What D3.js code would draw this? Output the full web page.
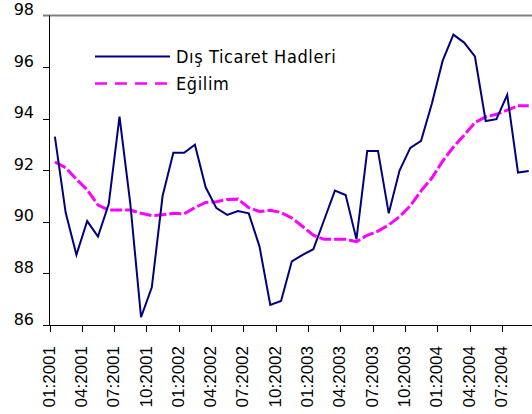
<!DOCTYPE html>
<html>
<head>
<meta charset="utf-8">
<script src="https://cdn.jsdelivr.net/npm/d3@7"></script>
<style>
  body { margin: 0; background: #fff; }
  svg { display: block; }
</style>
</head>
<body>
<div class="chartArea"></div>
<script>
// monthly data, 01:2001 - 09:2004
const months = [];
for (let y = 2001; y <= 2004; y++) {
    for (let m = 1; m <= 12; m++) {
        if (y === 2004 && m > 9) break;
        months.push((m < 10 ? "0" + m : "" + m) + ":" + y);
    }
}

const hadleri = [
    93.30, 90.36, 88.72, 90.03, 89.43, 90.69, 94.08, 90.72, 86.30, 87.46, 91.00, 92.68,
    92.68, 92.99, 91.34, 90.53, 90.27, 90.42, 90.33, 89.04, 86.78, 86.93, 88.47, 88.72,
    88.94, 90.07, 91.21, 91.04, 89.32, 92.75, 92.75, 90.33, 91.99, 92.87, 93.14, 94.58,
    96.24, 97.26, 96.95, 96.41, 93.91, 93.98, 94.92, 91.91, 91.97
];

const egilim = [
    92.32, 92.10, 91.65, 91.24, 90.65, 90.46, 90.46, 90.46, 90.33, 90.24, 90.27, 90.33,
    90.31, 90.55, 90.75, 90.78, 90.87, 90.88, 90.55, 90.40, 90.45, 90.36, 90.15, 89.82,
    89.48, 89.32, 89.32, 89.32, 89.23, 89.48, 89.64, 89.88, 90.20, 90.62, 91.20, 91.70,
    92.35, 92.90, 93.36, 93.85, 94.07, 94.17, 94.33, 94.50, 94.50
];

const yTicks = [86, 88, 90, 92, 94, 96, 98];
const legendNames = ["Dış Ticaret Hadleri", "Eğilim"];

const width = 532;
const height = 414;

const svg = d3.select(".chartArea")
    .append("svg")
    .attr("width", width)
    .attr("height", height);

const xScale = d3.scaleBand()
    .domain(months)
    .range([49.5, 49.5 + 10.77 * months.length]);

const yScale = d3.scaleLinear()
    .domain([86, 98])
    .range([325, 15.5]);

const cx = d => xScale(d) + xScale.bandwidth() / 2;

// top border of plot area (gray)
svg.append("line")
    .attr("x1", 43).attr("x2", width)
    .attr("y1", yScale(98)).attr("y2", yScale(98))
    .attr("stroke", "#808080")
    .attr("stroke-width", 2);

// y axis
svg.append("line")
    .attr("x1", 49.5).attr("x2", 49.5)
    .attr("y1", yScale(98)).attr("y2", yScale(86))
    .attr("stroke", "#000");

svg.selectAll(".ytick")
    .data(yTicks.slice(0, -1))
    .enter()
    .append("line")
    .attr("x1", 43).attr("x2", 49.5)
    .attr("y1", d => Math.round(yScale(d)) + 0.5)
    .attr("y2", d => Math.round(yScale(d)) + 0.5)
    .attr("stroke", "#000");

svg.selectAll(".ylab")
    .data(yTicks)
    .enter()
    .append("text")
    .attr("x", 34)
    .attr("y", d => yScale(d) - 0.5)
    .attr("text-anchor", "end")
    .attr("font-family", "'DejaVu Sans', sans-serif")
    .attr("font-size", "16px")
    .attr("fill", "#000")
    .text(d => d);

// x axis
svg.append("line")
    .attr("x1", 43).attr("x2", width)
    .attr("y1", 325.5).attr("y2", 325.5)
    .attr("stroke", "#000");

const tickMonths = months.filter((d, i) => i % 3 === 0);

svg.selectAll(".xtick")
    .data(tickMonths)
    .enter()
    .append("line")
    .attr("x1", d => Math.round(xScale(d)) + 0.5)
    .attr("x2", d => Math.round(xScale(d)) + 0.5)
    .attr("y1", 325.5).attr("y2", 332)
    .attr("stroke", "#000");

svg.selectAll(".xlab")
    .data(tickMonths)
    .enter()
    .append("text")
    .attr("transform", d => "translate(" + (xScale(d) - 1) + ",346) rotate(-90)")
    .attr("text-anchor", "end")
    .attr("dy", "0.36em")
    .attr("font-family", "'Liberation Sans', Arial, sans-serif")
    .attr("font-size", "17px")
    .attr("fill", "#000")
    .text(d => d);

// lines
const line = d3.line()
    .x((d, i) => cx(months[i]))
    .y(d => yScale(d));

svg.append("path")
    .datum(egilim)
    .attr("d", line)
    .attr("fill", "none")
    .attr("stroke", "#ff00ff")
    .attr("stroke-width", 3)
    .attr("stroke-dasharray", "12,3");

svg.append("path")
    .datum(hadleri)
    .attr("d", line)
    .attr("fill", "none")
    .attr("stroke", "#000080")
    .attr("stroke-width", 2)
    .attr("stroke-linejoin", "miter");

// legend
const legend = svg.append("g");
const legendStyles = [
    {color: "#000080", width: 2, dash: null, y: 56.5},
    {color: "#ff00ff", width: 2.5, dash: "12,8", y: 83.5}
];

legendNames.forEach((name, i) => {
    const s = legendStyles[i];
    legend.append("line")
        .attr("x1", 95).attr("x2", 170)
        .attr("y1", s.y).attr("y2", s.y)
        .attr("stroke", s.color)
        .attr("stroke-width", s.width)
        .attr("stroke-dasharray", s.dash);
    legend.append("text")
        .attr("x", 176)
        .attr("y", s.y + 6)
        .attr("font-family", "'DejaVu Sans Condensed', 'DejaVu Sans', sans-serif")
        .attr("font-size", "18px")
        .attr("letter-spacing", "0.6px")
        .attr("fill", "#000")
        .text(name);
});
</script>
</body>
</html>
